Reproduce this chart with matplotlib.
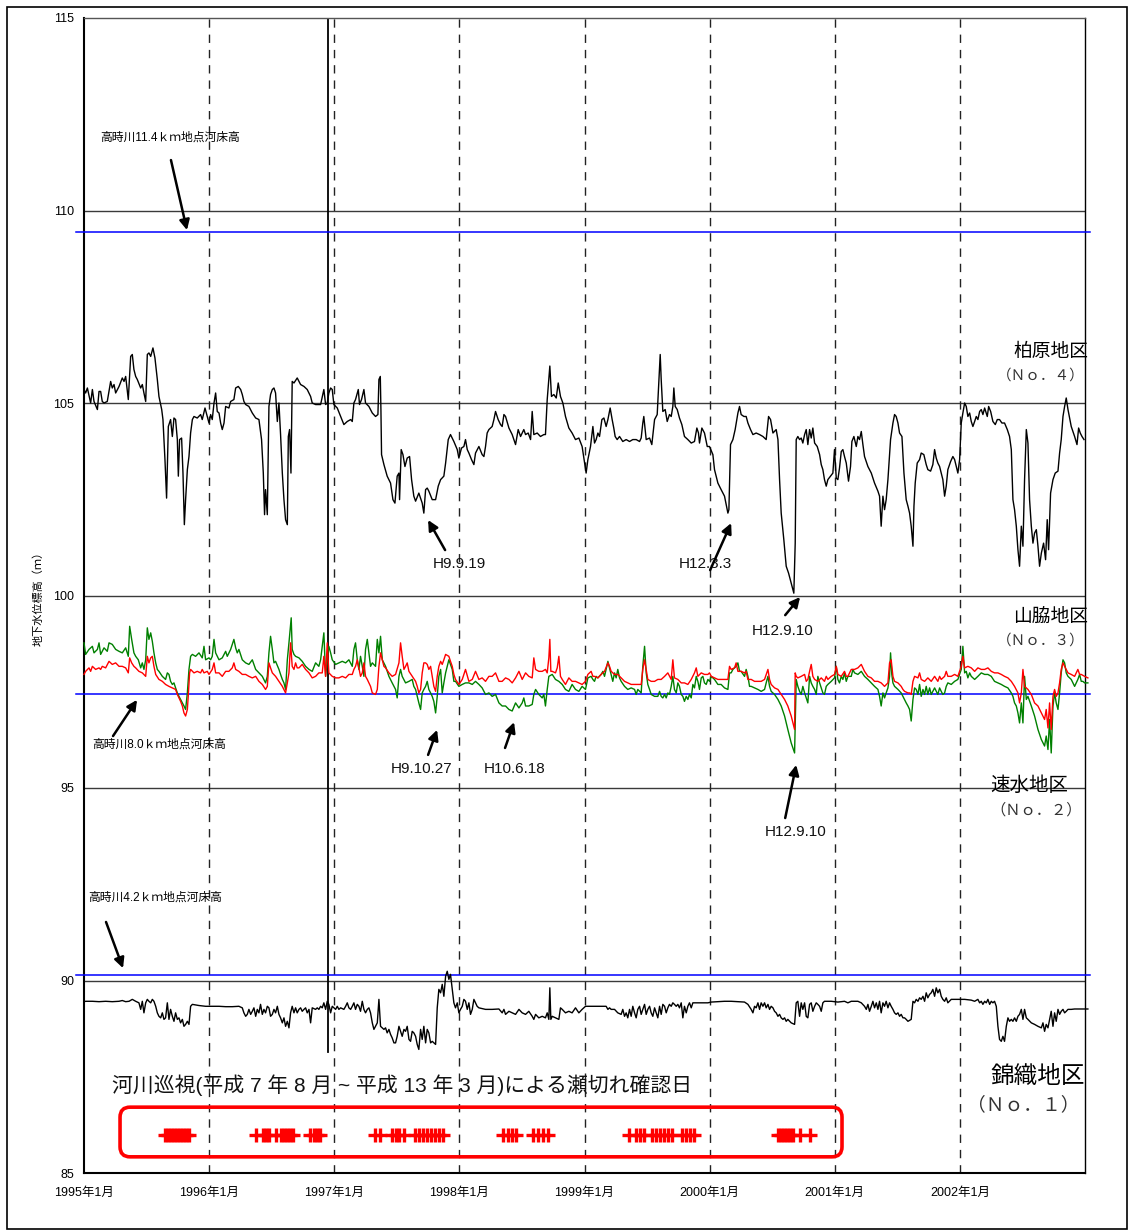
import numpy as np
import matplotlib
matplotlib.use("Agg")
import matplotlib.pyplot as plt
from matplotlib.patches import FancyBboxPatch, Rectangle

plt.rcParams['font.family'] = ['Liberation Sans', 'Noto Sans CJK JP']

# ---- data: (decimal year, level m) ----
# 柏原地区 (No.4)
kashiwara = [
    (1995.000, 105.35), (1995.013, 105.26), (1995.027, 105.39), (1995.053, 105.00), (1995.067, 105.35), (1995.080, 105.04), (1995.107, 104.83), (1995.120, 105.30), (1995.133, 105.30), (1995.146, 105.04),
    (1995.160, 105.00), (1995.186, 105.04), (1995.213, 105.56), (1995.226, 105.39), (1995.240, 105.48), (1995.253, 105.26), (1995.280, 105.43), (1995.306, 105.65), (1995.320, 105.56), (1995.333, 105.69),
    (1995.354, 105.09), (1995.373, 106.21), (1995.386, 106.26), (1995.399, 105.87), (1995.413, 105.69), (1995.426, 105.61), (1995.453, 105.39), (1995.466, 105.48), (1995.479, 105.26), (1995.493, 105.04),
    (1995.506, 106.26), (1995.519, 106.30), (1995.533, 106.21), (1995.551, 106.43), (1995.567, 106.17), (1995.586, 105.61), (1995.599, 105.17), (1995.621, 104.83), (1995.631, 104.57), (1995.647, 103.53),
    (1995.660, 102.53), (1995.674, 104.39), (1995.692, 104.57), (1995.706, 104.13), (1995.719, 104.61), (1995.732, 104.57), (1995.746, 104.05), (1995.754, 103.10), (1995.764, 104.05), (1995.780, 104.09),
    (1995.791, 103.18), (1995.802, 101.84), (1995.812, 102.49), (1995.826, 103.27), (1995.839, 103.61), (1995.852, 104.22), (1995.866, 104.57), (1995.879, 104.65), (1995.905, 104.61), (1995.932, 104.70),
    (1995.945, 104.57), (1995.967, 104.87), (1995.985, 104.65), (1995.999, 104.48), (1996.012, 104.70), (1996.025, 104.57), (1996.039, 105.00), (1996.052, 105.26), (1996.065, 104.78), (1996.079, 104.74),
    (1996.092, 104.48), (1996.105, 104.31), (1996.119, 104.48), (1996.132, 104.91), (1996.158, 104.87), (1996.172, 105.04), (1996.198, 105.09), (1996.212, 105.39), (1996.233, 105.43), (1996.252, 105.35),
    (1996.265, 105.22), (1996.278, 105.04), (1996.292, 104.96), (1996.318, 104.91), (1996.345, 104.74), (1996.372, 104.61), (1996.398, 104.57), (1996.419, 104.05), (1996.433, 103.18), (1996.443, 102.10),
    (1996.451, 102.75), (1996.465, 102.10), (1996.478, 104.91), (1996.491, 105.22), (1996.505, 105.35), (1996.518, 105.39), (1996.531, 105.26), (1996.545, 104.52), (1996.558, 105.00), (1996.571, 104.18),
    (1996.585, 103.18), (1996.598, 102.49), (1996.611, 101.97), (1996.625, 101.84), (1996.633, 104.13), (1996.643, 104.31), (1996.654, 103.18), (1996.664, 105.56), (1996.678, 105.52), (1996.704, 105.65),
    (1996.731, 105.48), (1996.758, 105.43), (1996.784, 105.35), (1996.811, 105.17), (1996.824, 105.00), (1996.851, 104.96), (1996.891, 104.96), (1996.917, 105.35), (1996.931, 104.96), (1996.944, 105.00),
    (1996.957, 105.26), (1996.971, 105.39), (1996.984, 105.35), (1996.997, 104.96), (1997.024, 104.87), (1997.051, 104.65), (1997.077, 104.44), (1997.104, 104.52), (1997.131, 104.57), (1997.144, 104.52),
    (1997.157, 105.00), (1997.170, 105.09), (1997.192, 105.35), (1997.202, 104.96), (1997.218, 105.09), (1997.237, 105.35), (1997.250, 105.00), (1997.277, 104.91), (1997.304, 104.74), (1997.330, 104.65),
    (1997.349, 104.70), (1997.357, 105.61), (1997.368, 105.69), (1997.373, 104.83), (1997.378, 103.66), (1997.397, 103.40), (1997.423, 103.10), (1997.450, 102.92), (1997.469, 102.49), (1997.485, 102.40),
    (1997.503, 103.10), (1997.517, 103.18), (1997.522, 102.49), (1997.535, 103.79), (1997.549, 103.66), (1997.565, 103.35), (1997.583, 103.57), (1997.602, 103.61), (1997.618, 103.01), (1997.636, 102.58),
    (1997.650, 102.45), (1997.676, 102.66), (1997.703, 102.40), (1997.716, 102.14), (1997.730, 102.75), (1997.743, 102.79), (1997.756, 102.71), (1997.783, 102.49), (1997.810, 102.49), (1997.831, 102.84),
    (1997.850, 103.01), (1997.876, 103.10), (1997.890, 103.44), (1997.911, 104.05), (1997.929, 104.18), (1997.956, 104.00), (1997.983, 103.79), (1997.996, 103.57), (1998.017, 103.83), (1998.036, 103.87),
    (1998.049, 104.05), (1998.063, 103.79), (1998.076, 103.70), (1998.097, 103.53), (1998.116, 103.40), (1998.129, 103.70), (1998.156, 103.87), (1998.182, 103.66), (1998.196, 103.61), (1998.209, 103.87),
    (1998.222, 104.22), (1998.236, 104.31), (1998.262, 104.39), (1998.276, 104.57), (1998.289, 104.78), (1998.310, 104.57), (1998.329, 104.44), (1998.342, 104.39), (1998.356, 104.70), (1998.369, 104.65),
    (1998.396, 104.35), (1998.422, 104.18), (1998.449, 103.92), (1998.470, 104.31), (1998.489, 104.13), (1998.515, 104.31), (1998.529, 104.18), (1998.550, 104.22), (1998.569, 104.05), (1998.582, 104.78),
    (1998.595, 104.18), (1998.622, 104.22), (1998.648, 104.13), (1998.675, 104.18), (1998.688, 104.18), (1998.702, 105.09), (1998.715, 105.61), (1998.723, 105.96), (1998.736, 105.17), (1998.755, 105.22),
    (1998.774, 105.13), (1998.790, 105.52), (1998.808, 105.17), (1998.827, 105.00), (1998.848, 104.65), (1998.875, 104.35), (1998.901, 104.22), (1998.928, 104.05), (1998.955, 104.09), (1998.981, 103.87),
    (1999.013, 103.18), (1999.027, 103.53), (1999.048, 103.87), (1999.067, 104.39), (1999.080, 103.96), (1999.093, 104.05), (1999.107, 104.22), (1999.120, 104.13), (1999.139, 104.57), (1999.155, 104.61),
    (1999.173, 104.39), (1999.187, 104.57), (1999.205, 104.87), (1999.221, 104.57), (1999.234, 104.35), (1999.245, 104.13), (1999.261, 104.05), (1999.280, 104.13), (1999.306, 104.00), (1999.333, 104.05),
    (1999.360, 104.00), (1999.386, 104.05), (1999.413, 104.05), (1999.440, 104.00), (1999.453, 104.09), (1999.466, 104.48), (1999.474, 104.65), (1999.493, 104.05), (1999.520, 104.09), (1999.538, 103.92),
    (1999.560, 104.57), (1999.581, 104.70), (1999.592, 105.43), (1999.605, 106.26), (1999.613, 105.61), (1999.626, 104.78), (1999.645, 104.83), (1999.661, 104.52), (1999.679, 104.70), (1999.693, 104.65),
    (1999.706, 104.91), (1999.714, 105.39), (1999.725, 104.91), (1999.741, 104.83), (1999.759, 104.61), (1999.778, 104.44), (1999.799, 104.13), (1999.826, 104.05), (1999.853, 103.96), (1999.879, 104.00),
    (1999.898, 104.35), (1999.911, 104.22), (1999.919, 103.96), (1999.938, 104.35), (1999.959, 104.22), (1999.981, 103.87), (1999.999, 103.87), (2000.026, 103.66), (2000.039, 103.27), (2000.066, 102.92),
    (2000.092, 102.75), (2000.119, 102.58), (2000.146, 102.14), (2000.154, 102.23), (2000.167, 103.92), (2000.186, 104.05), (2000.204, 104.31), (2000.226, 104.74), (2000.239, 104.91), (2000.252, 104.70),
    (2000.274, 104.65), (2000.292, 104.65), (2000.306, 104.48), (2000.327, 104.31), (2000.346, 104.18), (2000.372, 104.22), (2000.399, 104.18), (2000.426, 104.13), (2000.452, 104.05), (2000.471, 104.65),
    (2000.487, 104.57), (2000.506, 104.22), (2000.532, 104.31), (2000.546, 104.05), (2000.559, 103.01), (2000.572, 102.14), (2000.593, 101.45), (2000.612, 100.76), (2000.631, 100.58), (2000.652, 100.32),
    (2000.673, 100.06), (2000.684, 101.36), (2000.692, 104.05), (2000.705, 104.13), (2000.719, 104.05), (2000.732, 104.09), (2000.745, 103.96), (2000.759, 104.18), (2000.772, 104.31), (2000.785, 103.92),
    (2000.799, 104.31), (2000.812, 104.09), (2000.825, 104.35), (2000.839, 103.96), (2000.860, 103.87), (2000.879, 103.66), (2000.892, 103.40), (2000.905, 103.27), (2000.918, 103.01), (2000.932, 102.84),
    (2000.945, 103.01), (2000.966, 103.10), (2000.985, 103.18), (2000.998, 103.79), (2001.012, 103.05), (2001.025, 103.01), (2001.038, 103.31), (2001.052, 103.74), (2001.065, 103.79), (2001.078, 103.61),
    (2001.092, 103.44), (2001.110, 102.97), (2001.126, 103.35), (2001.137, 104.00), (2001.153, 104.13), (2001.172, 103.87), (2001.185, 104.13), (2001.198, 104.05), (2001.212, 104.26), (2001.225, 103.92),
    (2001.238, 103.61), (2001.265, 103.35), (2001.292, 103.18), (2001.318, 102.92), (2001.345, 102.71), (2001.358, 102.58), (2001.371, 101.80), (2001.385, 102.58), (2001.398, 102.23), (2001.411, 102.49),
    (2001.425, 103.01), (2001.446, 104.05), (2001.465, 104.48), (2001.478, 104.70), (2001.491, 104.65), (2001.505, 104.48), (2001.518, 104.22), (2001.537, 104.13), (2001.553, 103.18), (2001.571, 102.49),
    (2001.585, 102.32), (2001.598, 102.14), (2001.611, 101.80), (2001.625, 101.28), (2001.633, 102.32), (2001.643, 102.92), (2001.659, 103.44), (2001.678, 103.53), (2001.691, 103.70), (2001.712, 103.66),
    (2001.731, 103.40), (2001.744, 103.27), (2001.766, 103.23), (2001.784, 103.40), (2001.798, 103.79), (2001.811, 103.57), (2001.824, 103.44), (2001.838, 103.35), (2001.864, 103.01), (2001.878, 102.58),
    (2001.891, 102.84), (2001.904, 103.27), (2001.926, 103.48), (2001.944, 103.61), (2001.958, 103.53), (2001.971, 103.35), (2001.984, 103.18), (2001.998, 103.53), (2002.011, 104.48), (2002.024, 104.74),
    (2002.038, 105.00), (2002.051, 104.91), (2002.064, 104.65), (2002.078, 104.74), (2002.091, 104.52), (2002.104, 104.39), (2002.118, 104.52), (2002.131, 104.65), (2002.144, 104.57), (2002.158, 104.78),
    (2002.171, 104.83), (2002.184, 104.70), (2002.198, 104.87), (2002.219, 104.65), (2002.230, 104.91), (2002.246, 104.78), (2002.264, 104.52), (2002.283, 104.44), (2002.299, 104.57), (2002.317, 104.57),
    (2002.336, 104.48), (2002.357, 104.48), (2002.379, 104.31), (2002.397, 104.13), (2002.411, 103.79), (2002.424, 102.49), (2002.437, 102.23), (2002.451, 101.80), (2002.464, 101.19), (2002.477, 100.76),
    (2002.491, 101.80), (2002.504, 101.28), (2002.517, 103.01), (2002.531, 104.31), (2002.544, 103.96), (2002.557, 102.49), (2002.571, 101.80), (2002.584, 101.36), (2002.597, 101.62), (2002.611, 101.71),
    (2002.624, 101.28), (2002.637, 100.76), (2002.651, 101.10), (2002.669, 101.36), (2002.685, 100.93), (2002.698, 101.97), (2002.709, 101.19), (2002.725, 102.66), (2002.744, 103.01), (2002.762, 103.18),
    (2002.784, 103.23), (2002.797, 103.70), (2002.810, 104.05), (2002.824, 104.65), (2002.837, 104.91), (2002.850, 105.13), (2002.864, 104.83), (2002.877, 104.61), (2002.890, 104.39), (2002.917, 104.13),
    (2002.936, 103.92), (2002.949, 104.35), (2002.962, 104.22), (2002.976, 104.13), (2002.992, 104.05),
]

# 山脇地区 (No.3) - green
yamawaki = [
    (1995.000, 98.77), (1995.013, 98.47), (1995.040, 98.60), (1995.067, 98.68), (1995.080, 98.51), (1995.107, 98.60), (1995.120, 98.77), (1995.133, 98.47), (1995.160, 98.64), (1995.186, 98.55),
    (1995.200, 98.77), (1995.226, 98.73), (1995.253, 98.60), (1995.280, 98.55), (1995.306, 98.51), (1995.333, 98.64), (1995.354, 98.42), (1995.365, 99.20), (1995.381, 98.86), (1995.399, 98.51),
    (1995.413, 98.42), (1995.434, 98.33), (1995.453, 98.12), (1995.466, 98.25), (1995.479, 98.08), (1995.493, 98.33), (1995.506, 99.16), (1995.519, 98.86), (1995.533, 99.03), (1995.546, 98.81),
    (1995.559, 98.51), (1995.573, 98.25), (1995.586, 98.08), (1995.599, 98.03), (1995.626, 97.90), (1995.652, 97.82), (1995.666, 97.99), (1995.679, 97.95), (1995.692, 97.77), (1995.706, 97.69),
    (1995.719, 97.73), (1995.732, 97.60), (1995.746, 97.47), (1995.759, 97.38), (1995.772, 97.30), (1995.786, 97.21), (1995.799, 97.13), (1995.812, 97.04), (1995.826, 97.47), (1995.839, 98.08),
    (1995.852, 98.42), (1995.866, 98.47), (1995.892, 98.42), (1995.919, 98.51), (1995.945, 98.38), (1995.959, 98.68), (1995.972, 98.33), (1995.999, 98.38), (1996.012, 98.33), (1996.025, 98.42),
    (1996.039, 98.86), (1996.052, 98.51), (1996.079, 98.33), (1996.105, 98.38), (1996.132, 98.55), (1996.145, 98.42), (1996.172, 98.60), (1996.198, 98.86), (1996.212, 98.64), (1996.225, 98.51),
    (1996.238, 98.60), (1996.265, 98.33), (1996.292, 98.25), (1996.318, 98.21), (1996.345, 98.33), (1996.372, 98.08), (1996.398, 97.99), (1996.425, 97.90), (1996.451, 97.73), (1996.465, 97.90),
    (1996.478, 98.51), (1996.491, 98.94), (1996.505, 98.60), (1996.518, 98.25), (1996.531, 98.29), (1996.558, 98.08), (1996.571, 97.95), (1996.585, 97.82), (1996.598, 97.73), (1996.611, 97.56),
    (1996.625, 98.33), (1996.638, 98.77), (1996.656, 99.42), (1996.664, 98.60), (1996.678, 98.47), (1996.691, 98.42), (1996.718, 98.38), (1996.744, 98.29), (1996.771, 98.16), (1996.798, 98.08),
    (1996.824, 98.03), (1996.851, 98.25), (1996.877, 98.16), (1996.891, 98.33), (1996.917, 99.03), (1996.931, 97.90), (1996.944, 98.33), (1996.957, 98.68), (1996.971, 98.51), (1996.984, 98.33),
    (1997.011, 98.21), (1997.037, 98.25), (1997.064, 98.29), (1997.091, 98.25), (1997.117, 98.33), (1997.144, 98.16), (1997.157, 98.60), (1997.170, 98.77), (1997.184, 98.33), (1997.197, 98.08),
    (1997.210, 98.42), (1997.224, 98.16), (1997.237, 97.90), (1997.250, 98.60), (1997.264, 98.86), (1997.277, 98.51), (1997.290, 98.16), (1997.304, 98.25), (1997.330, 98.16), (1997.344, 98.86),
    (1997.357, 98.51), (1997.370, 98.94), (1997.384, 98.33), (1997.410, 98.16), (1997.437, 97.90), (1997.463, 97.73), (1997.490, 97.56), (1997.503, 97.34), (1997.517, 97.90), (1997.530, 98.08),
    (1997.543, 97.90), (1997.570, 97.73), (1997.597, 97.77), (1997.623, 97.82), (1997.636, 97.64), (1997.650, 97.56), (1997.663, 97.38), (1997.676, 97.21), (1997.690, 97.04), (1997.703, 97.47),
    (1997.716, 97.56), (1997.730, 97.64), (1997.743, 97.77), (1997.756, 97.56), (1997.770, 97.47), (1997.783, 97.38), (1997.796, 97.25), (1997.810, 96.95), (1997.823, 97.38), (1997.836, 97.90),
    (1997.850, 98.08), (1997.863, 97.47), (1997.876, 97.73), (1997.890, 97.99), (1997.916, 98.33), (1997.943, 98.08), (1997.956, 97.77), (1997.969, 97.77), (1997.996, 97.64), (1998.023, 97.69),
    (1998.049, 97.73), (1998.076, 97.73), (1998.103, 97.69), (1998.129, 97.77), (1998.156, 97.69), (1998.182, 97.60), (1998.209, 97.43), (1998.236, 97.47), (1998.262, 97.38), (1998.289, 97.43),
    (1998.316, 97.21), (1998.342, 97.13), (1998.369, 97.13), (1998.396, 97.04), (1998.422, 97.00), (1998.449, 97.21), (1998.476, 97.08), (1998.502, 97.21), (1998.515, 97.34), (1998.529, 97.13),
    (1998.555, 97.13), (1998.582, 97.17), (1998.595, 97.43), (1998.609, 97.56), (1998.635, 97.43), (1998.662, 97.34), (1998.675, 97.43), (1998.688, 97.13), (1998.702, 97.56), (1998.715, 97.90),
    (1998.742, 97.95), (1998.768, 97.82), (1998.795, 97.77), (1998.822, 97.69), (1998.848, 97.56), (1998.875, 97.51), (1998.901, 97.69), (1998.928, 97.56), (1998.955, 97.51), (1998.981, 97.64),
    (1999.008, 97.56), (1999.027, 97.86), (1999.053, 97.90), (1999.067, 97.82), (1999.080, 97.77), (1999.093, 97.90), (1999.107, 97.86), (1999.133, 97.95), (1999.147, 98.03), (1999.160, 97.90),
    (1999.187, 98.29), (1999.200, 98.12), (1999.213, 97.95), (1999.226, 97.77), (1999.240, 97.99), (1999.253, 97.86), (1999.266, 98.08), (1999.280, 97.86), (1999.293, 97.77), (1999.320, 97.64),
    (1999.346, 97.56), (1999.373, 97.60), (1999.400, 97.56), (1999.413, 97.43), (1999.426, 97.56), (1999.453, 97.47), (1999.466, 98.16), (1999.480, 98.68), (1999.493, 97.99), (1999.506, 97.69),
    (1999.520, 97.56), (1999.533, 97.43), (1999.560, 97.38), (1999.586, 97.38), (1999.600, 97.51), (1999.613, 97.38), (1999.626, 97.34), (1999.640, 97.43), (1999.653, 97.34), (1999.666, 97.47),
    (1999.679, 97.43), (1999.693, 97.64), (1999.706, 97.90), (1999.719, 97.56), (1999.733, 97.47), (1999.746, 97.73), (1999.759, 97.64), (1999.773, 97.43), (1999.786, 97.38), (1999.799, 97.25),
    (1999.813, 97.38), (1999.826, 97.30), (1999.839, 97.43), (1999.853, 97.34), (1999.866, 97.69), (1999.879, 97.60), (1999.893, 97.90), (1999.906, 97.77), (1999.919, 97.56), (1999.933, 97.86),
    (1999.946, 97.90), (1999.959, 97.73), (1999.973, 97.69), (1999.986, 97.82), (1999.999, 97.77), (2000.013, 97.90), (2000.039, 97.82), (2000.066, 97.69), (2000.092, 97.69), (2000.119, 97.60),
    (2000.146, 97.56), (2000.159, 97.99), (2000.172, 97.99), (2000.186, 98.08), (2000.199, 98.12), (2000.212, 98.16), (2000.226, 98.25), (2000.239, 98.03), (2000.252, 98.03), (2000.279, 97.90),
    (2000.292, 98.08), (2000.306, 97.90), (2000.319, 97.64), (2000.332, 97.64), (2000.359, 97.60), (2000.386, 97.56), (2000.412, 97.51), (2000.439, 97.56), (2000.452, 97.73), (2000.466, 97.90),
    (2000.479, 97.64), (2000.492, 97.51), (2000.519, 97.43), (2000.546, 97.30), (2000.572, 97.13), (2000.599, 96.87), (2000.625, 96.52), (2000.652, 96.17), (2000.679, 95.91), (2000.684, 96.69),
    (2000.692, 97.82), (2000.705, 97.64), (2000.719, 97.51), (2000.732, 97.43), (2000.745, 97.64), (2000.759, 97.47), (2000.772, 97.34), (2000.785, 97.21), (2000.799, 97.90), (2000.812, 97.73),
    (2000.825, 97.64), (2000.839, 97.56), (2000.852, 97.43), (2000.865, 97.90), (2000.879, 97.73), (2000.905, 97.47), (2000.918, 97.43), (2000.932, 97.64), (2000.945, 97.69), (2000.972, 97.77),
    (2000.998, 97.86), (2001.012, 98.16), (2001.025, 97.82), (2001.038, 97.73), (2001.052, 97.90), (2001.065, 97.82), (2001.078, 97.99), (2001.092, 97.77), (2001.105, 97.90), (2001.132, 97.90),
    (2001.145, 98.08), (2001.158, 97.99), (2001.185, 97.95), (2001.212, 98.03), (2001.238, 97.90), (2001.265, 97.82), (2001.292, 97.73), (2001.318, 97.64), (2001.345, 97.56), (2001.358, 97.38),
    (2001.371, 97.13), (2001.385, 97.47), (2001.398, 97.34), (2001.411, 97.47), (2001.425, 97.60), (2001.438, 97.90), (2001.446, 98.51), (2001.456, 97.95), (2001.465, 97.73), (2001.478, 97.64),
    (2001.505, 97.56), (2001.531, 97.47), (2001.545, 97.38), (2001.558, 97.30), (2001.571, 97.21), (2001.585, 97.13), (2001.598, 97.04), (2001.611, 96.74), (2001.625, 97.30), (2001.638, 97.60),
    (2001.651, 97.56), (2001.665, 97.43), (2001.678, 97.69), (2001.691, 97.38), (2001.705, 97.56), (2001.718, 97.43), (2001.731, 97.64), (2001.744, 97.43), (2001.758, 97.60), (2001.771, 97.43),
    (2001.784, 97.51), (2001.798, 97.60), (2001.824, 97.43), (2001.838, 97.60), (2001.851, 97.51), (2001.864, 97.43), (2001.878, 97.47), (2001.891, 97.64), (2001.904, 97.73), (2001.931, 97.69),
    (2001.958, 97.77), (2001.984, 97.82), (2002.011, 98.08), (2002.024, 98.68), (2002.038, 97.99), (2002.051, 98.03), (2002.064, 97.86), (2002.078, 97.99), (2002.091, 97.90), (2002.118, 97.82),
    (2002.144, 97.90), (2002.171, 97.99), (2002.198, 97.95), (2002.224, 97.95), (2002.251, 97.90), (2002.277, 97.77), (2002.304, 97.73), (2002.331, 97.69), (2002.357, 97.64), (2002.384, 97.60),
    (2002.411, 97.47), (2002.424, 97.38), (2002.437, 97.21), (2002.451, 97.13), (2002.464, 96.95), (2002.477, 96.69), (2002.491, 97.21), (2002.504, 96.69), (2002.517, 97.90), (2002.531, 97.30),
    (2002.544, 97.38), (2002.571, 97.13), (2002.597, 96.87), (2002.624, 96.52), (2002.651, 96.26), (2002.677, 96.09), (2002.690, 96.35), (2002.704, 96.00), (2002.717, 96.78), (2002.730, 95.91),
    (2002.744, 97.13), (2002.757, 97.47), (2002.770, 97.21), (2002.784, 97.04), (2002.797, 97.47), (2002.810, 97.99), (2002.824, 98.33), (2002.837, 98.25), (2002.850, 97.99), (2002.864, 97.90),
    (2002.890, 97.82), (2002.917, 97.64), (2002.943, 97.82), (2002.957, 97.95), (2002.970, 97.77), (2002.983, 97.77), (2002.997, 97.73), (2003.023, 97.73),
]

# 速水地区 (No.2) - red
hayami = [
    (1995.000, 97.95), (1995.013, 98.03), (1995.040, 98.12), (1995.053, 98.03), (1995.067, 98.16), (1995.093, 98.08), (1995.120, 98.12), (1995.133, 98.08), (1995.146, 98.16), (1995.173, 98.12),
    (1995.200, 98.29), (1995.226, 98.21), (1995.253, 98.25), (1995.280, 98.16), (1995.306, 98.16), (1995.333, 98.12), (1995.354, 97.99), (1995.365, 98.38), (1995.381, 98.25), (1995.399, 98.16),
    (1995.413, 98.12), (1995.439, 98.03), (1995.466, 97.99), (1995.493, 97.90), (1995.506, 98.42), (1995.519, 98.25), (1995.533, 98.38), (1995.546, 98.42), (1995.559, 98.16), (1995.573, 97.95),
    (1995.599, 97.82), (1995.626, 97.77), (1995.652, 97.69), (1995.679, 97.64), (1995.706, 97.60), (1995.732, 97.56), (1995.746, 97.43), (1995.759, 97.34), (1995.772, 97.25), (1995.786, 97.13),
    (1995.799, 96.95), (1995.812, 96.87), (1995.826, 97.04), (1995.834, 97.43), (1995.844, 97.99), (1995.852, 98.08), (1995.879, 97.99), (1995.905, 98.03), (1995.932, 97.99), (1995.945, 98.08),
    (1995.959, 97.99), (1995.985, 98.03), (1995.999, 97.95), (1996.025, 98.08), (1996.039, 98.25), (1996.052, 97.99), (1996.079, 97.99), (1996.105, 97.90), (1996.132, 98.03), (1996.158, 98.03),
    (1996.185, 98.12), (1996.198, 98.25), (1996.212, 98.08), (1996.238, 98.03), (1996.265, 97.95), (1996.292, 97.95), (1996.318, 97.90), (1996.345, 97.86), (1996.372, 97.90), (1996.398, 97.77),
    (1996.425, 97.69), (1996.451, 97.56), (1996.465, 97.64), (1996.478, 98.25), (1996.491, 98.12), (1996.505, 97.99), (1996.531, 97.90), (1996.558, 97.77), (1996.585, 97.64), (1996.611, 97.47),
    (1996.625, 97.73), (1996.638, 97.99), (1996.651, 98.77), (1996.664, 98.16), (1996.678, 98.08), (1996.691, 98.25), (1996.704, 98.12), (1996.718, 98.12), (1996.744, 98.21), (1996.771, 98.08),
    (1996.798, 97.99), (1996.824, 97.86), (1996.851, 97.90), (1996.877, 97.99), (1996.904, 97.99), (1996.917, 98.42), (1996.931, 97.90), (1996.944, 98.77), (1996.957, 97.99), (1996.984, 97.90),
    (1997.011, 97.86), (1997.037, 97.86), (1997.064, 97.90), (1997.091, 97.86), (1997.117, 97.95), (1997.144, 97.95), (1997.157, 98.08), (1997.170, 98.16), (1997.184, 98.33), (1997.197, 98.12),
    (1997.210, 97.90), (1997.224, 97.99), (1997.237, 98.25), (1997.250, 97.90), (1997.264, 97.82), (1997.277, 97.73), (1997.290, 97.64), (1997.304, 97.47), (1997.330, 97.43), (1997.344, 97.56),
    (1997.357, 98.16), (1997.370, 98.51), (1997.384, 98.33), (1997.397, 98.16), (1997.410, 98.12), (1997.437, 97.99), (1997.463, 97.90), (1997.490, 97.95), (1997.517, 98.25), (1997.530, 98.77),
    (1997.543, 98.42), (1997.557, 98.08), (1997.570, 98.16), (1997.583, 98.25), (1997.597, 98.03), (1997.623, 97.90), (1997.650, 97.77), (1997.663, 97.64), (1997.676, 97.47), (1997.690, 97.56),
    (1997.703, 97.99), (1997.716, 98.25), (1997.730, 98.25), (1997.743, 98.21), (1997.756, 98.08), (1997.770, 98.16), (1997.783, 97.90), (1997.796, 97.64), (1997.810, 97.51), (1997.823, 97.90),
    (1997.836, 98.16), (1997.850, 98.29), (1997.863, 98.21), (1997.876, 98.33), (1997.890, 98.47), (1997.916, 98.42), (1997.929, 98.29), (1997.943, 98.16), (1997.956, 97.95), (1997.969, 97.82),
    (1997.996, 97.69), (1998.023, 97.82), (1998.049, 98.08), (1998.076, 97.77), (1998.103, 97.82), (1998.129, 98.03), (1998.156, 97.82), (1998.182, 97.86), (1998.209, 97.77), (1998.236, 97.90),
    (1998.262, 97.90), (1998.289, 97.99), (1998.316, 97.77), (1998.342, 97.77), (1998.369, 97.86), (1998.396, 97.82), (1998.422, 97.73), (1998.449, 97.86), (1998.476, 98.03), (1998.502, 97.82),
    (1998.529, 97.99), (1998.555, 97.90), (1998.582, 97.86), (1998.595, 98.38), (1998.609, 98.08), (1998.635, 98.03), (1998.662, 98.03), (1998.688, 98.08), (1998.702, 97.99), (1998.715, 98.38),
    (1998.723, 98.86), (1998.731, 98.03), (1998.742, 98.03), (1998.768, 97.99), (1998.782, 98.12), (1998.795, 98.42), (1998.808, 97.90), (1998.822, 97.82), (1998.848, 97.69), (1998.875, 97.86),
    (1998.901, 97.77), (1998.928, 97.77), (1998.955, 97.73), (1998.981, 97.69), (1999.008, 97.77), (1999.027, 97.95), (1999.053, 98.03), (1999.067, 97.90), (1999.080, 97.90), (1999.107, 97.86),
    (1999.133, 97.95), (1999.160, 98.03), (1999.187, 98.25), (1999.200, 98.16), (1999.213, 98.03), (1999.240, 97.95), (1999.266, 97.95), (1999.293, 97.86), (1999.320, 97.77), (1999.346, 97.73),
    (1999.373, 97.69), (1999.400, 97.69), (1999.426, 97.69), (1999.453, 97.69), (1999.466, 98.08), (1999.480, 98.33), (1999.493, 98.08), (1999.506, 97.82), (1999.533, 97.77), (1999.560, 97.77),
    (1999.586, 97.82), (1999.613, 97.82), (1999.640, 97.90), (1999.666, 97.99), (1999.693, 97.82), (1999.706, 98.33), (1999.719, 97.86), (1999.746, 97.82), (1999.773, 97.73), (1999.799, 97.73),
    (1999.826, 97.69), (1999.853, 97.82), (1999.879, 97.99), (1999.893, 98.12), (1999.906, 97.90), (1999.933, 97.99), (1999.959, 97.95), (1999.986, 97.95), (1999.999, 97.99), (2000.013, 97.90),
    (2000.039, 97.86), (2000.066, 97.82), (2000.092, 97.82), (2000.119, 97.82), (2000.146, 97.82), (2000.159, 98.16), (2000.172, 98.08), (2000.199, 98.12), (2000.212, 98.25), (2000.226, 98.03),
    (2000.252, 98.03), (2000.279, 97.99), (2000.292, 98.03), (2000.306, 97.82), (2000.332, 97.82), (2000.359, 97.77), (2000.386, 97.77), (2000.412, 97.77), (2000.439, 97.82), (2000.466, 98.08),
    (2000.479, 97.82), (2000.492, 97.69), (2000.519, 97.60), (2000.546, 97.56), (2000.572, 97.43), (2000.599, 97.30), (2000.625, 97.13), (2000.652, 96.87), (2000.679, 96.52), (2000.684, 97.99),
    (2000.692, 97.90), (2000.705, 97.86), (2000.732, 97.90), (2000.759, 97.95), (2000.772, 97.77), (2000.785, 97.82), (2000.799, 98.03), (2000.812, 98.21), (2000.825, 97.90), (2000.839, 97.82),
    (2000.865, 97.77), (2000.892, 97.86), (2000.918, 97.77), (2000.932, 97.90), (2000.945, 97.82), (2000.972, 97.90), (2000.998, 97.95), (2001.012, 98.16), (2001.025, 97.95), (2001.052, 97.90),
    (2001.078, 98.03), (2001.092, 97.90), (2001.105, 97.90), (2001.132, 98.08), (2001.158, 98.08), (2001.185, 98.12), (2001.212, 98.21), (2001.238, 98.03), (2001.265, 97.90), (2001.292, 97.86),
    (2001.318, 97.77), (2001.345, 97.77), (2001.371, 97.73), (2001.398, 97.64), (2001.425, 97.73), (2001.438, 98.25), (2001.451, 98.33), (2001.465, 97.90), (2001.478, 97.77), (2001.505, 97.73),
    (2001.531, 97.64), (2001.545, 97.56), (2001.558, 97.51), (2001.585, 97.47), (2001.598, 97.47), (2001.611, 97.43), (2001.625, 97.77), (2001.638, 97.90), (2001.665, 97.86), (2001.678, 97.99),
    (2001.691, 97.82), (2001.718, 97.77), (2001.744, 97.86), (2001.771, 97.77), (2001.798, 97.90), (2001.824, 97.77), (2001.838, 97.90), (2001.851, 97.82), (2001.878, 97.90), (2001.891, 98.03),
    (2001.904, 97.90), (2001.931, 97.90), (2001.958, 97.95), (2001.984, 97.90), (2002.011, 98.16), (2002.024, 98.42), (2002.038, 98.12), (2002.064, 98.16), (2002.091, 98.12), (2002.118, 98.03),
    (2002.144, 98.12), (2002.171, 98.08), (2002.198, 98.08), (2002.224, 98.12), (2002.251, 98.03), (2002.277, 97.99), (2002.304, 97.99), (2002.331, 97.95), (2002.357, 97.90), (2002.384, 97.86),
    (2002.411, 97.77), (2002.437, 97.64), (2002.464, 97.47), (2002.477, 97.21), (2002.491, 97.47), (2002.504, 98.08), (2002.517, 97.64), (2002.544, 97.56), (2002.571, 97.43), (2002.597, 97.21),
    (2002.624, 97.13), (2002.651, 96.95), (2002.677, 96.78), (2002.690, 97.04), (2002.704, 96.56), (2002.717, 97.21), (2002.730, 96.52), (2002.744, 97.38), (2002.757, 97.56), (2002.770, 97.38),
    (2002.784, 97.47), (2002.797, 97.73), (2002.810, 98.08), (2002.824, 98.25), (2002.837, 98.16), (2002.850, 98.08), (2002.864, 97.99), (2002.890, 97.95), (2002.917, 97.90), (2002.943, 98.08),
    (2002.957, 97.95), (2002.970, 97.95), (2002.997, 97.90), (2003.023, 97.86),
]

# 錦織地区 (No.1)
nishigori = [
    (1995.000, 89.45), (1995.013, 89.46), (1995.067, 89.46), (1995.120, 89.45), (1995.173, 89.46), (1995.226, 89.45), (1995.280, 89.46), (1995.306, 89.48), (1995.333, 89.45), (1995.360, 89.46),
    (1995.386, 89.51), (1995.413, 89.46), (1995.439, 89.42), (1995.453, 89.25), (1995.466, 89.46), (1995.479, 89.16), (1995.493, 89.42), (1995.506, 89.51), (1995.519, 89.46), (1995.533, 89.42),
    (1995.546, 89.51), (1995.559, 89.46), (1995.573, 89.33), (1995.586, 89.16), (1995.599, 89.07), (1995.613, 89.03), (1995.626, 89.16), (1995.639, 88.99), (1995.652, 89.03), (1995.666, 89.42),
    (1995.679, 88.99), (1995.692, 89.25), (1995.706, 89.07), (1995.719, 88.94), (1995.732, 89.16), (1995.746, 88.99), (1995.759, 89.03), (1995.772, 88.90), (1995.786, 88.99), (1995.799, 88.81),
    (1995.812, 88.86), (1995.826, 88.94), (1995.839, 88.86), (1995.852, 89.33), (1995.866, 89.38), (1995.919, 89.35), (1995.972, 89.33), (1996.025, 89.33), (1996.079, 89.33), (1996.132, 89.32),
    (1996.185, 89.32), (1996.238, 89.33), (1996.265, 89.29), (1996.278, 89.16), (1996.292, 89.07), (1996.305, 89.12), (1996.318, 89.25), (1996.332, 89.12), (1996.345, 89.20), (1996.358, 89.29),
    (1996.372, 89.07), (1996.385, 89.25), (1996.398, 89.16), (1996.411, 89.38), (1996.425, 89.12), (1996.438, 89.25), (1996.451, 89.16), (1996.465, 89.33), (1996.478, 89.29), (1996.491, 89.07),
    (1996.505, 89.12), (1996.518, 89.25), (1996.531, 89.16), (1996.545, 89.33), (1996.558, 89.12), (1996.571, 89.03), (1996.585, 88.90), (1996.598, 89.03), (1996.611, 88.81), (1996.625, 88.94),
    (1996.638, 88.77), (1996.651, 89.16), (1996.664, 89.33), (1996.678, 89.16), (1996.691, 89.29), (1996.704, 89.16), (1996.718, 89.25), (1996.731, 89.29), (1996.744, 89.20), (1996.758, 89.25),
    (1996.771, 89.29), (1996.784, 89.16), (1996.798, 89.25), (1996.811, 88.90), (1996.824, 89.29), (1996.851, 89.25), (1996.864, 89.29), (1996.877, 89.25), (1996.891, 89.33), (1996.904, 89.29),
    (1996.917, 89.42), (1996.931, 89.25), (1996.944, 89.46), (1996.957, 89.38), (1996.971, 89.16), (1996.984, 89.33), (1996.997, 89.29), (1997.011, 89.25), (1997.024, 89.33), (1997.037, 89.25),
    (1997.051, 89.29), (1997.077, 89.25), (1997.091, 89.33), (1997.104, 89.42), (1997.117, 89.29), (1997.131, 89.25), (1997.144, 89.33), (1997.157, 89.42), (1997.170, 89.25), (1997.184, 89.38),
    (1997.197, 89.33), (1997.210, 89.20), (1997.224, 89.46), (1997.237, 89.25), (1997.250, 89.16), (1997.264, 89.25), (1997.277, 89.29), (1997.290, 89.16), (1997.304, 88.90), (1997.317, 88.73),
    (1997.330, 88.81), (1997.344, 88.90), (1997.357, 89.51), (1997.370, 88.81), (1997.384, 88.77), (1997.397, 88.73), (1997.410, 88.77), (1997.423, 88.64), (1997.437, 88.73), (1997.450, 88.60),
    (1997.463, 88.51), (1997.477, 88.38), (1997.490, 88.38), (1997.503, 88.55), (1997.517, 88.81), (1997.530, 88.68), (1997.543, 88.55), (1997.557, 88.73), (1997.570, 88.68), (1997.583, 88.81),
    (1997.597, 88.47), (1997.610, 88.42), (1997.623, 88.68), (1997.636, 88.64), (1997.650, 88.55), (1997.663, 88.34), (1997.676, 88.21), (1997.690, 88.73), (1997.703, 88.47), (1997.716, 88.81),
    (1997.730, 88.38), (1997.743, 88.73), (1997.756, 88.64), (1997.770, 88.38), (1997.783, 88.42), (1997.810, 88.34), (1997.823, 89.29), (1997.836, 89.77), (1997.850, 89.68), (1997.863, 89.90),
    (1997.876, 89.59), (1997.890, 90.11), (1997.903, 90.24), (1997.916, 90.03), (1997.929, 90.16), (1997.943, 89.77), (1997.956, 89.42), (1997.969, 89.29), (1997.983, 89.42), (1997.996, 89.16),
    (1998.009, 89.25), (1998.023, 89.33), (1998.036, 89.51), (1998.049, 89.46), (1998.063, 89.25), (1998.076, 89.42), (1998.089, 89.12), (1998.103, 89.25), (1998.116, 89.51), (1998.129, 89.42),
    (1998.142, 89.33), (1998.156, 89.29), (1998.209, 89.25), (1998.262, 89.25), (1998.316, 89.26), (1998.342, 89.16), (1998.356, 89.25), (1998.369, 89.12), (1998.396, 89.20), (1998.422, 89.16),
    (1998.449, 89.12), (1998.476, 89.25), (1998.502, 89.16), (1998.529, 89.12), (1998.555, 89.20), (1998.582, 89.07), (1998.595, 88.99), (1998.609, 89.12), (1998.635, 89.03), (1998.662, 89.07),
    (1998.688, 89.03), (1998.702, 89.16), (1998.715, 88.99), (1998.723, 89.81), (1998.731, 88.99), (1998.742, 89.07), (1998.768, 89.03), (1998.795, 88.99), (1998.808, 89.29), (1998.822, 89.25),
    (1998.848, 89.16), (1998.875, 89.20), (1998.901, 89.16), (1998.928, 89.29), (1998.955, 89.16), (1998.981, 89.25), (1999.008, 89.33), (1999.027, 89.33), (1999.080, 89.33), (1999.133, 89.33),
    (1999.173, 89.33), (1999.187, 89.25), (1999.200, 89.29), (1999.213, 89.25), (1999.240, 89.25), (1999.266, 89.16), (1999.293, 89.12), (1999.306, 89.25), (1999.320, 89.07), (1999.333, 89.16),
    (1999.346, 89.03), (1999.360, 89.25), (1999.373, 89.07), (1999.386, 89.33), (1999.400, 89.16), (1999.413, 89.03), (1999.426, 89.25), (1999.440, 89.33), (1999.453, 89.12), (1999.466, 89.25),
    (1999.480, 89.38), (1999.493, 89.12), (1999.506, 89.25), (1999.520, 89.33), (1999.533, 89.16), (1999.546, 89.07), (1999.560, 89.29), (1999.573, 89.16), (1999.586, 89.03), (1999.600, 89.33),
    (1999.613, 89.12), (1999.626, 89.38), (1999.640, 89.33), (1999.653, 89.16), (1999.666, 89.29), (1999.679, 89.38), (1999.693, 89.33), (1999.706, 89.42), (1999.719, 89.38), (1999.733, 89.33),
    (1999.746, 89.38), (1999.759, 89.29), (1999.773, 89.42), (1999.786, 89.03), (1999.799, 89.33), (1999.813, 89.16), (1999.826, 89.33), (1999.839, 89.42), (1999.853, 89.29), (1999.866, 89.42),
    (1999.893, 89.42), (1999.933, 89.42), (1999.986, 89.42), (2000.013, 89.44), (2000.066, 89.45), (2000.119, 89.46), (2000.172, 89.46), (2000.226, 89.45), (2000.279, 89.44), (2000.306, 89.38),
    (2000.332, 89.25), (2000.346, 89.16), (2000.359, 89.33), (2000.372, 89.29), (2000.386, 89.42), (2000.399, 89.25), (2000.412, 89.42), (2000.426, 89.33), (2000.439, 89.42), (2000.452, 89.29),
    (2000.466, 89.38), (2000.479, 89.25), (2000.492, 89.33), (2000.506, 89.29), (2000.519, 89.20), (2000.532, 89.16), (2000.546, 89.07), (2000.559, 89.12), (2000.572, 89.03), (2000.586, 88.99),
    (2000.599, 89.03), (2000.612, 88.94), (2000.625, 88.99), (2000.652, 88.90), (2000.679, 88.86), (2000.692, 89.42), (2000.705, 89.46), (2000.719, 89.07), (2000.732, 89.42), (2000.745, 89.25),
    (2000.759, 89.42), (2000.772, 89.07), (2000.785, 89.03), (2000.799, 89.38), (2000.812, 89.42), (2000.825, 89.20), (2000.839, 89.33), (2000.852, 89.42), (2000.865, 89.38), (2000.879, 89.33),
    (2000.892, 89.20), (2000.905, 89.42), (2000.918, 89.46), (2000.972, 89.46), (2001.025, 89.44), (2001.078, 89.46), (2001.105, 89.42), (2001.132, 89.46), (2001.185, 89.46), (2001.212, 89.42),
    (2001.238, 89.33), (2001.252, 89.25), (2001.265, 89.38), (2001.278, 89.20), (2001.292, 89.33), (2001.305, 89.46), (2001.318, 89.29), (2001.332, 89.42), (2001.345, 89.25), (2001.358, 89.46),
    (2001.371, 89.16), (2001.385, 89.42), (2001.398, 89.33), (2001.411, 89.46), (2001.425, 89.29), (2001.438, 89.42), (2001.451, 89.33), (2001.465, 89.25), (2001.478, 89.16), (2001.491, 89.12),
    (2001.505, 89.16), (2001.518, 89.07), (2001.531, 89.12), (2001.545, 89.03), (2001.558, 89.03), (2001.571, 88.99), (2001.585, 88.94), (2001.611, 88.99), (2001.625, 89.46), (2001.638, 89.42),
    (2001.651, 89.51), (2001.665, 89.46), (2001.678, 89.55), (2001.691, 89.51), (2001.705, 89.59), (2001.718, 89.46), (2001.731, 89.68), (2001.744, 89.55), (2001.758, 89.64), (2001.771, 89.68),
    (2001.784, 89.77), (2001.798, 89.59), (2001.811, 89.81), (2001.824, 89.68), (2001.838, 89.77), (2001.851, 89.59), (2001.864, 89.51), (2001.878, 89.46), (2001.891, 89.55), (2001.904, 89.42),
    (2001.931, 89.51), (2001.958, 89.51), (2001.984, 89.51), (2002.038, 89.51), (2002.091, 89.49), (2002.118, 89.46), (2002.144, 89.51), (2002.158, 89.42), (2002.171, 89.46), (2002.184, 89.38),
    (2002.198, 89.46), (2002.211, 89.42), (2002.224, 89.51), (2002.238, 89.38), (2002.251, 89.46), (2002.264, 89.42), (2002.277, 89.46), (2002.291, 89.33), (2002.304, 88.81), (2002.317, 88.47),
    (2002.331, 88.42), (2002.344, 88.55), (2002.357, 88.42), (2002.371, 88.81), (2002.384, 89.03), (2002.397, 88.94), (2002.411, 88.99), (2002.424, 88.94), (2002.437, 89.03), (2002.451, 88.94),
    (2002.464, 89.07), (2002.477, 89.12), (2002.491, 89.25), (2002.504, 88.99), (2002.517, 89.25), (2002.531, 89.03), (2002.544, 88.99), (2002.571, 88.90), (2002.597, 88.86), (2002.624, 88.81),
    (2002.651, 88.77), (2002.664, 88.90), (2002.677, 88.68), (2002.690, 88.86), (2002.704, 88.77), (2002.717, 88.99), (2002.730, 89.20), (2002.744, 88.81), (2002.757, 89.16), (2002.770, 88.94),
    (2002.784, 89.25), (2002.797, 89.12), (2002.810, 89.20), (2002.824, 89.25), (2002.837, 89.16), (2002.850, 89.20), (2002.864, 89.25), (2002.890, 89.25), (2002.917, 89.26), (2002.943, 89.26),
    (2002.983, 89.26), (2003.023, 89.26),
]

# 瀬切れ確認日 (河川巡視)
dry_dates = [
    1995.647, 1995.671, 1995.695, 1995.719, 1995.743, 1995.767, 1995.791, 1995.815, 1995.839,
    1996.375, 1996.431, 1996.455, 1996.479, 1996.535, 1996.575, 1996.599, 1996.623, 1996.647, 1996.671,
    1996.807, 1996.839, 1996.863, 1996.887,
    1997.326, 1997.366, 1997.462, 1997.494, 1997.518, 1997.558, 1997.646, 1997.678, 1997.710, 1997.742,
    1997.774, 1997.806, 1997.838, 1997.870,
    1998.349, 1998.389, 1998.421, 1998.453, 1998.589, 1998.629, 1998.669, 1998.709,
    1999.357, 1999.412, 1999.444, 1999.476, 1999.540, 1999.572, 1999.604, 1999.636, 1999.668, 1999.700,
    1999.780, 1999.812, 1999.844, 1999.876,
    2000.548, 2000.572, 2000.596, 2000.620, 2000.644, 2000.668, 2000.724, 2000.803,
]
dry_level = 86.0

# 河床高 (reference riverbed heights)
riverbed_levels = [109.44, 97.45, 90.13]
riverbed_labels = ['高時川11.4ｋｍ地点河床高', '高時川8.0ｋｍ地点河床高', '高時川4.2ｋｍ地点河床高']

year_ticks = [1995, 1996, 1997, 1998, 1999, 2000, 2001, 2002]
year_labels = ['1995年1月', '1996年1月', '1997年1月', '1998年1月',
               '1999年1月', '2000年1月', '2001年1月', '2002年1月']
level_ticks = [85, 90, 95, 100, 105, 110, 115]
grid_levels = [90, 95, 100, 105, 110]
year_lines = [1996, 1997, 1998, 1999, 2000, 2001, 2002]

# solid marker line late 1996
marker_line_date = 1996.95
marker_line_bottom = 88.14

W, H = 1128, 1230
fig = plt.figure(figsize=(W / 100, H / 100), dpi=100)
ax = fig.add_axes([84 / W, 1 - 1173 / H, (1085 - 84) / W, (1173 - 18) / H])
ax.set_xlim(1995, 2003)
ax.set_ylim(85, 115)

for lv in grid_levels:
    ax.axhline(lv, color='#3a3a3a', lw=1.0, zorder=1)
for yr in year_lines:
    ax.axvline(yr, color='#222222', lw=1.0, ls=(0, (6, 5)), zorder=1)
ax.plot([marker_line_date, marker_line_date], [115, marker_line_bottom], color='black', lw=1.3, zorder=2)

for lv in riverbed_levels:
    ax.plot([1994.94, 2003.04], [lv, lv], color='#0000ff', lw=1.1, clip_on=False, zorder=3)

k = np.array(kashiwara)
g = np.array(yamawaki)
r = np.array(hayami)
n = np.array(nishigori)
ax.plot(k[:, 0], k[:, 1], color='black', lw=1.0, zorder=4)
ax.plot(g[:, 0], g[:, 1], color='#008000', lw=1.0, zorder=4, clip_on=False)
ax.plot(r[:, 0], r[:, 1], color='#ff0000', lw=1.0, zorder=5, clip_on=False)
ax.plot(n[:, 0], n[:, 1], color='black', lw=1.0, zorder=4, clip_on=False)

ax.plot(dry_dates, [dry_level] * len(dry_dates), ls='none', marker='+',
        ms=9.5, mew=2.4, color='#ff0000', zorder=6)

# red rounded box around the dry-date markers
box = FancyBboxPatch((1995.288, 85.42), 5.77, 1.29,
                     boxstyle='round,pad=0,rounding_size=0.08', mutation_aspect=3.25,
                     fill=False, ec='#ff0000', lw=2.6, zorder=6)
ax.add_patch(box)

ax.text(1995.224, 87.29, '河川巡視(平成 7 年 8 月 ~ 平成 13 年 3 月)による瀬切れ確認日',
        fontsize=15, va='center', ha='left', color='#111111')

# riverbed labels and arrows
ax.text(1995.128, 111.88, riverbed_labels[0], fontsize=8.5, va='center', ha='left')
ax.text(1995.064, 96.12, riverbed_labels[1], fontsize=8.5, va='center', ha='left')
ax.text(1995.032, 92.14, riverbed_labels[2], fontsize=8.5, va='center', ha='left')

arrow_kw = dict(arrowstyle='-|>', color='black', lw=1.8, mutation_scale=15, shrinkA=0, shrinkB=0)
arrows = [
    ((1995.695, 111.31), (1995.823, 109.49)),
    ((1995.232, 96.35), (1995.424, 97.29)),
    ((1995.176, 91.52), (1995.312, 90.32)),
    ((1997.886, 101.18), (1997.750, 101.96)),
    ((2000.004, 100.66), (2000.172, 101.88)),
    ((2000.604, 99.49), (2000.723, 99.96)),
    ((1997.750, 95.86), (1997.822, 96.51)),
    ((1998.365, 96.04), (1998.437, 96.71)),
    ((2000.604, 94.22), (2000.692, 95.60)),
]
for tail, head in arrows:
    ax.annotate('', xy=head, xytext=tail, arrowprops=arrow_kw, zorder=7)

events = [
    ('H9.9.19', 1998.0, 100.82),
    ('H12.3.3', 1999.97, 100.82),
    ('H12.9.10', 2000.58, 99.08),
    ('H9.10.27', 1997.694, 95.49),
    ('H10.6.18', 1998.445, 95.49),
    ('H12.9.10', 2000.684, 93.86),
]
for txt, x, y in events:
    ax.text(x, y, txt, fontsize=11, ha='center', va='center', color='#111111', zorder=6)

# station names
ax.text(2003.026, 106.32, '柏原地区', fontsize=13.5, ha='right', va='center', clip_on=False)
ax.text(2003.0, 105.70, '（Ｎｏ．４）', fontsize=10.5, ha='right', va='center', color='#333333', clip_on=False)
ax.text(2003.026, 99.44, '山脇地区', fontsize=13.5, ha='right', va='center', clip_on=False)
ax.text(2003.0, 98.84, '（Ｎｏ．３）', fontsize=10.5, ha='right', va='center', color='#333333', clip_on=False)
ax.text(2002.242, 95.05, '速水地区', fontsize=14, ha='left', va='center')
ax.text(2002.242, 94.43, '（Ｎｏ．２）', fontsize=11, ha='left', va='center', color='#333333')
ax.text(2002.242, 87.49, '錦織地区', fontsize=17, ha='left', va='center')
ax.text(2002.96, 86.77, '（Ｎｏ．１）', fontsize=13.5, ha='right', va='center', color='#333333')

ax.set_xticks(year_ticks)
ax.set_xticklabels(year_labels)
ax.set_yticks(level_ticks)
ax.tick_params(axis='both', length=0, labelsize=9)
ax.tick_params(axis='x', pad=10)
ax.tick_params(axis='y', pad=7)
ax.set_ylabel('地下水位標高（ｍ）', fontsize=8)
ax.yaxis.set_label_coords(-0.040, 0.5)

for side in ['left', 'bottom']:
    ax.spines[side].set_linewidth(1.5)
    ax.spines[side].set_color('black')
ax.spines['top'].set_linewidth(1.0)
ax.spines['top'].set_color('#555555')
ax.spines['right'].set_linewidth(1.0)
ax.spines['right'].set_color('black')

# outer frame
fig.patches.append(Rectangle((7 / W, 1 / H), (1127 - 7) / W, (1223 - 1) / H,
                             transform=fig.transFigure, fill=False, ec='black', lw=1.2))

fig.savefig('out.png', dpi=100)
